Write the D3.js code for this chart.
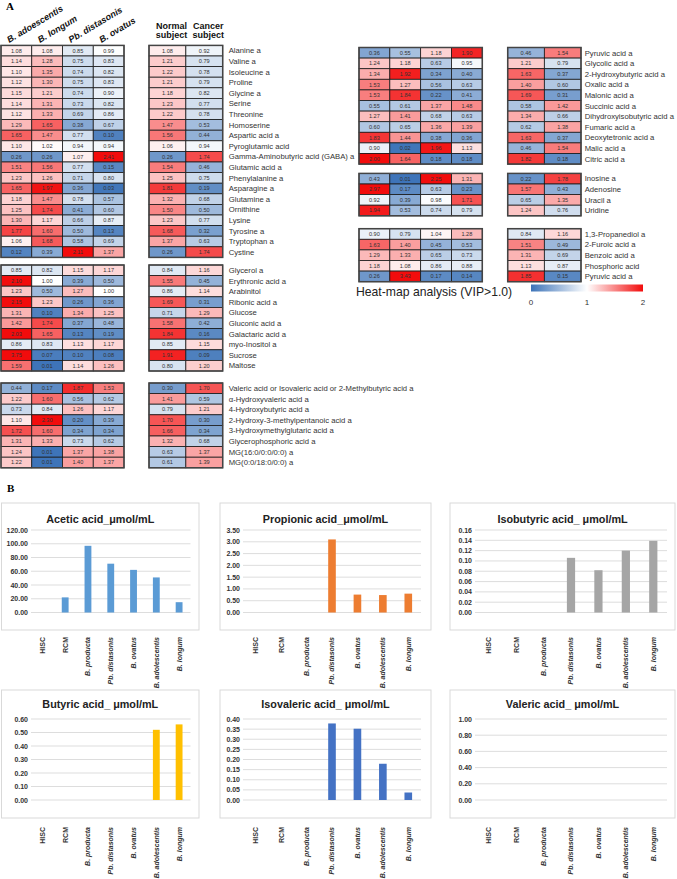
<!DOCTYPE html>
<html><head><meta charset="utf-8">
<script src="https://cdn.jsdelivr.net/npm/d3@7"></script>
<style>body{margin:0;background:#fff} svg{display:block}</style>
</head><body>
<svg id="c" width="677" height="879"></svg>
<script>
// ---------------- DATA ----------------
const heatBacteria = ["B. adoescentis", "B. longum", "Pb. distasonis", "B. ovatus"];
const heatSubjects = [["Normal", "subject"], ["Cancer", "subject"]];

const aminoNames = ["Alanine a","Valine a","Isoleucine a","Proline","Glycine a","Serine","Threonine","Homoserine","Aspartic acid a","Pyroglutamic acid","Gamma-Aminobutyric acid (GABA) a","Glutamic acid a","Phenylalanine a","Asparagine a","Glutamine a","Ornithine","Lysine","Tyrosine a","Tryptophan a","Cystine"];
const aminoValues = [
 [1.08,1.08,0.85,0.99,1.08,0.92],[1.14,1.28,0.75,0.83,1.21,0.79],[1.10,1.35,0.74,0.82,1.22,0.78],
 [1.12,1.30,0.75,0.83,1.21,0.79],[1.15,1.21,0.74,0.90,1.18,0.82],[1.14,1.31,0.73,0.82,1.23,0.77],
 [1.12,1.33,0.69,0.86,1.22,0.78],[1.29,1.65,0.38,0.67,1.47,0.53],[1.65,1.47,0.77,0.10,1.56,0.44],
 [1.10,1.02,0.94,0.94,1.06,0.94],[0.26,0.26,1.07,2.41,0.26,1.74],[1.51,1.56,0.77,0.15,1.54,0.46],
 [1.23,1.26,0.71,0.80,1.25,0.75],[1.65,1.97,0.36,0.03,1.81,0.19],[1.18,1.47,0.78,0.57,1.32,0.68],
 [1.25,1.74,0.41,0.60,1.50,0.50],[1.30,1.17,0.66,0.87,1.23,0.77],[1.77,1.60,0.50,0.13,1.68,0.32],
 [1.06,1.68,0.58,0.69,1.37,0.63],[0.12,0.39,2.11,1.37,0.26,1.74]];

const sugarNames = ["Glycerol a","Erythronic acid a","Arabinitol","Ribonic acid a","Glucose","Gluconic acid a","Galactaric acid a","myo-Inositol a","Sucrose","Maltose"];
const sugarValues = [
 [0.85,0.82,1.15,1.17,0.84,1.16],[2.10,1.00,0.39,0.50,1.55,0.45],[1.23,0.50,1.27,1.00,0.86,1.14],
 [2.15,1.23,0.26,0.36,1.69,0.31],[1.31,0.10,1.34,1.25,0.71,1.29],[1.42,1.74,0.37,0.48,1.58,0.42],
 [2.03,1.65,0.13,0.19,1.84,0.16],[0.86,0.83,1.13,1.17,0.85,1.15],[3.75,0.07,0.10,0.08,1.91,0.09],
 [1.59,0.01,1.14,1.26,0.80,1.20]];

const fattyNames = ["Valeric acid or Isovaleric acid or 2-Methylbutyric acid a","α-Hydroxyvaleric acid  a","4-Hydroxybutyric acid a","2-Hydroxy-3-methylpentanoic acid a","3-Hydroxymethylglutaric acid  a","Glycerophosphoric acid a","MG(16:0/0:0/0:0) a","MG(0:0/18:0/0:0) a"];
const fattyValues = [
 [0.44,0.17,1.87,1.53,0.30,1.70],[1.22,1.60,0.56,0.62,1.41,0.59],[0.73,0.84,1.26,1.17,0.79,1.21],
 [1.10,2.30,0.20,0.39,1.70,0.30],[1.72,1.60,0.34,0.34,1.66,0.34],[1.31,1.33,0.73,0.62,1.32,0.68],
 [1.24,0.01,1.37,1.38,0.63,1.37],[1.22,0.01,1.40,1.37,0.61,1.39]];

const organicNames = ["Pyruvic acid a","Glycolic acid a","2-Hydroxybutyric acid a","Oxalic acid a","Malonic acid a","Succinic acid a","Dihydroxyisobutyric acid a","Fumaric acid a","Deoxytetronic acid a","Malic acid a","Citric acid a"];
const organicValues = [
 [0.36,0.55,1.18,1.90,0.46,1.54],[1.24,1.18,0.63,0.95,1.21,0.79],[1.34,1.92,0.34,0.40,1.63,0.37],
 [1.53,1.27,0.56,0.63,1.40,0.60],[1.53,1.84,0.22,0.41,1.69,0.31],[0.55,0.61,1.37,1.48,0.58,1.42],
 [1.27,1.41,0.68,0.63,1.34,0.66],[0.60,0.65,1.36,1.39,0.62,1.38],[1.83,1.44,0.38,0.36,1.63,0.37],
 [0.90,0.02,1.96,1.13,0.46,1.54],[2.00,1.64,0.18,0.18,1.82,0.18]];

const nucleoNames = ["Inosine a","Adenosine","Uracil a","Uridine"];
const nucleoValues = [
 [0.43,0.01,2.25,1.31,0.22,1.78],[2.97,0.17,0.63,0.23,1.57,0.43],
 [0.92,0.39,0.98,1.71,0.65,1.35],[1.94,0.53,0.74,0.79,1.24,0.76]];

const otherNames = ["1,3-Propanediol a","2-Furoic acid a","Benzoic acid a","Phosphoric acid","Pyruvic acid a"];
const otherValues = [
 [0.90,0.79,1.04,1.28,0.84,1.16],[1.63,1.40,0.45,0.53,1.51,0.49],[1.29,1.33,0.65,0.73,1.31,0.69],
 [1.18,1.08,0.86,0.88,1.13,0.87],[0.26,3.43,0.17,0.14,1.85,0.15]];

const legendTicks = [0, 1, 2];

const barCategories = ["HISC","RCM","B. producta","Pb. distasonis","B. ovatus","B. adolescentis","B. longum"];
const aceticValues     = [0, 22, 97, 71, 62, 51, 15];
const propionicValues  = [0, 0, 0, 3.10, 0.76, 0.74, 0.80];
const isobutyricValues = [0, 0, 0, 0.106, 0.082, 0.120, 0.139];
const butyricValues    = [0, 0, 0, 0, 0, 0.52, 0.56];
const isovalericValues = [0, 0, 0, 0.378, 0.352, 0.179, 0.037];
const valericValues    = [0, 0, 0, 0, 0, 0, 0];
const aceticTicks     = [0,20,40,60,80,100,120];
const propionicTicks  = [0,0.5,1,1.5,2,2.5,3,3.5];
const isobutyricTicks = [0,0.02,0.04,0.06,0.08,0.10,0.12,0.14,0.16];
const butyricTicks    = [0,0.1,0.2,0.3,0.4,0.5,0.6];
const isovalericTicks = [0,0.05,0.1,0.15,0.2,0.25,0.3,0.35,0.4];
const valericTicks    = [0,0.2,0.4,0.6,0.8,1.0];

// ---------------- DRAW ----------------
const svg = d3.select("#c");
const FONT = "'Liberation Sans', Arial, Helvetica, sans-serif";
const color = d3.scaleLinear().domain([0,1,2]).range(["#3c73b8","#ffffff","#f20c0c"]).clamp(true);

svg.append("text").attr("x",6).attr("y",10).attr("font-family","'Liberation Serif', 'DejaVu Serif', serif")
  .attr("font-weight","bold").attr("font-size",11).text("A");
svg.append("text").attr("x",7).attr("y",492).attr("font-family","'Liberation Serif', 'DejaVu Serif', serif")
  .attr("font-weight","bold").attr("font-size",11).text("B");

const ROW_H = 10.6;
const sides = {
  left:  {bac:[1,124],     subj:[149,222.7], label:228.7},
  right: {bac:[359,482.3], subj:[507.7,581], label:584.7}
};
const groups = [
  {names:aminoNames,   values:aminoValues,   side:"left",  top:45.4},
  {names:sugarNames,   values:sugarValues,   side:"left",  top:265},
  {names:fattyNames,   values:fattyValues,   side:"left",  top:383},
  {names:organicNames, values:organicValues, side:"right", top:47.5},
  {names:nucleoNames,  values:nucleoValues,  side:"right", top:173.4},
  {names:otherNames,   values:otherValues,   side:"right", top:228.7}
];

const hx = {};
for (const k of Object.keys(sides)) {
  hx[k] = {
    bac: d3.scaleBand().domain(d3.range(heatBacteria.length)).range(sides[k].bac),
    subj: d3.scaleBand().domain(d3.range(heatSubjects.length)).range(sides[k].subj)
  };
}

groups.forEach(g => {
  const s = sides[g.side], X = hx[g.side];
  const y = d3.scaleBand().domain(d3.range(g.names.length)).range([g.top, g.top + ROW_H*g.names.length]);
  const gg = svg.append("g");
  g.values.forEach((row, i) => {
    row.forEach((v, j) => {
      const sc = j < 4 ? X.bac : X.subj;
      const jj = j < 4 ? j : j - 4;
      const x0 = sc(jj), w = sc.bandwidth();
      gg.append("rect").attr("x",x0).attr("y",y(i)).attr("width",w).attr("height",y.bandwidth())
        .attr("fill",color(v)).attr("stroke","#1a1a1a").attr("stroke-width",0.8);
      gg.append("text").attr("x",x0+w/2).attr("y",y(i)+y.bandwidth()/2+1.9)
        .attr("text-anchor","middle").attr("font-family",FONT).attr("font-size",5.6)
        .attr("fill","#333").text(v.toFixed(2));
    });
    gg.append("text").attr("x",s.label).attr("y",y(i)+y.bandwidth()/2+2.7)
      .attr("font-family",FONT).attr("font-size",7.7).attr("fill","#333")
      .text(g.names[i]);
  });
  const yr = y.range();
  [s.bac, s.subj].forEach(r => {
    gg.append("rect").attr("x",r[0]).attr("y",yr[0]).attr("width",r[1]-r[0]).attr("height",yr[1]-yr[0])
      .attr("fill","none").attr("stroke","#444").attr("stroke-width",1.5);
  });
});

// headers (left side only)
heatBacteria.forEach((name, i) => {
  const sc = hx.left.bac;
  svg.append("text").attr("transform",`translate(${sc(i)+sc.bandwidth()*0.27},43) rotate(-31)`)
    .attr("font-family",FONT).attr("font-weight","bold").attr("font-style","italic")
    .attr("font-size",9).attr("fill","#111").text(name);
});
heatSubjects.forEach((lines, i) => {
  const sc = hx.left.subj;
  const cx = sc(i) + sc.bandwidth()/2 + 4;
  lines.forEach((t, k) => {
    svg.append("text").attr("x",cx).attr("y",29 + k*8.6).attr("text-anchor","middle")
      .attr("font-family",FONT).attr("font-weight","bold").attr("font-size",9).attr("fill","#111").text(t);
  });
});

// legend
svg.append("text").attr("x",356).attr("y",296).attr("font-family",FONT).attr("font-size",12.2)
  .attr("fill","#222").text("Heat-map analysis (VIP>1.0)");
const lx = d3.scaleLinear().domain([0,2]).range([531,643]);
const defs = svg.append("defs");
const grad = defs.append("linearGradient").attr("id","hm");
legendTicks.forEach(t => grad.append("stop").attr("offset",(t/2*100)+"%").attr("stop-color",color(t)));
svg.append("rect").attr("x",lx(0)).attr("y",284.5).attr("width",lx(2)-lx(0)).attr("height",7)
  .attr("fill","url(#hm)");
legendTicks.forEach(t => {
  svg.append("text").attr("x",lx(t)).attr("y",305).attr("text-anchor","middle")
    .attr("font-family",FONT).attr("font-size",8).attr("fill","#333").text(t);
});

// bar charts
const rowsB = [
  {box:[503,630], top:530, zero:612.5, title:523, label:637},
  {box:[690,818], top:719, zero:800,   title:708, label:827}
];
const colsB = [
  {box:[1.5,199], plot:[31,190.5]},
  {box:[220,431], plot:[243,421]},
  {box:[450,675], plot:[475,667]}
];
const panels = [
  {title:"Acetic acid_μmol/mL",       values:aceticValues,     ticks:aceticTicks,     color:"#5B9BD5", r:0, c:0},
  {title:"Propionic acid_μmol/mL",    values:propionicValues,  ticks:propionicTicks,  color:"#ED7D31", r:0, c:1},
  {title:"Isobutyric acid_ μmol/mL",  values:isobutyricValues, ticks:isobutyricTicks, color:"#A5A5A5", r:0, c:2},
  {title:"Butyric acid_ μmol/mL",     values:butyricValues,    ticks:butyricTicks,    color:"#FFC000", r:1, c:0},
  {title:"Isovaleric acid_ μmol/mL",  values:isovalericValues, ticks:isovalericTicks, color:"#4472C4", r:1, c:1},
  {title:"Valeric acid_ μmol/mL",     values:valericValues,    ticks:valericTicks,    color:"#70AD47", r:1, c:2}
];
const fmt = d3.format(".2f");
panels.forEach(p => {
  const R = rowsB[p.r], C = colsB[p.c];
  const g = svg.append("g");
  g.append("rect").attr("x",C.box[0]).attr("y",R.box[0]).attr("width",C.box[1]-C.box[0]).attr("height",R.box[1]-R.box[0])
    .attr("fill","#fff").attr("stroke","#d9d9d9").attr("stroke-width",1);
  const x = d3.scaleBand().domain(barCategories).range(C.plot);
  const y = d3.scaleLinear().domain([0, d3.max(p.ticks)]).range([R.zero, R.top]);
  p.ticks.forEach(t => {
    g.append("line").attr("x1",C.plot[0]).attr("x2",C.plot[1]).attr("y1",y(t)).attr("y2",y(t))
      .attr("stroke","#d9d9d9").attr("stroke-width",0.9);
    g.append("text").attr("x",C.plot[0]-3).attr("y",y(t)+2.5).attr("text-anchor","end")
      .attr("font-family",FONT).attr("font-weight","bold").attr("font-size",7).attr("fill","#333").text(fmt(t));
  });
  const bw = x.bandwidth()*0.3;
  barCategories.forEach((cat, i) => {
    const v = p.values[i];
    if (v > 0) {
      g.append("rect").attr("x",x(cat)+x.bandwidth()/2-bw/2).attr("y",y(v))
        .attr("width",bw).attr("height",y(0)-y(v)).attr("fill",p.color);
    }
    const cx = x(cat)+x.bandwidth()/2;
    g.append("text").attr("transform",`translate(${cx+2.4},${R.label}) rotate(-90)`)
      .attr("text-anchor","end").attr("font-family",FONT).attr("font-weight","bold")
      .attr("font-style", i < 2 ? "normal" : "italic")
      .attr("font-size",7).attr("fill","#333").text(cat);
  });
  g.append("text").attr("x",(C.box[0]+C.box[1])/2).attr("y",R.title).attr("text-anchor","middle")
    .attr("font-family",FONT).attr("font-weight","bold").attr("font-size",10.8).attr("fill","#222").text(p.title);
});
</script>
</body></html>
